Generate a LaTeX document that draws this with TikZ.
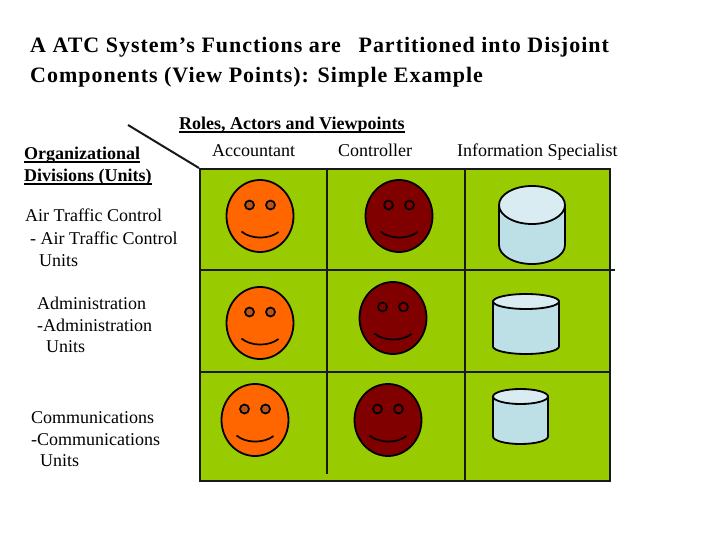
\documentclass[tikz,border=0pt]{standalone}
\usepackage{fontspec}
\setmainfont{Liberation Serif}
\usetikzlibrary{shapes.geometric}
\definecolor{gridgreen}{HTML}{99CC00}
\definecolor{faceorange}{HTML}{FF6600}
\definecolor{facered}{HTML}{800000}
\definecolor{eyeorange}{HTML}{B8551A}
\definecolor{cylside}{HTML}{BDDFE6}
\definecolor{cyltop}{HTML}{D9ECF1}
\newcommand\ulx[1]{\setbox0\hbox{#1}\rlap{\rule[-2.6pt]{\wd0}{1.3pt}}\box0}
\tikzset{
  gridline/.style={line width=2pt,draw=black!90},
  outl/.style={line width=1.8pt,draw=black},
  txt/.style={anchor=base west,inner sep=0pt,font=\fontsize{18}{20}\selectfont},
  ttl/.style={anchor=base west,inner sep=0pt,font=\fontsize{22}{24}\selectfont\bfseries\addfontfeatures{LetterSpace=4.5}},
  hd/.style={anchor=base west,inner sep=0pt,font=\fontsize{18}{20}\selectfont\bfseries},
  pics/smiley/.style n args={2}{code={
    \node[ellipse,outl,fill=#1,minimum width=67pt,minimum height=72pt,inner sep=0pt] (-head) at (0,0) {};
    \node[circle,line width=1.7pt,draw=black,fill=#2,minimum size=9pt,inner sep=0pt] (-le) at (-10.5,-11) {};
    \node[circle,line width=1.7pt,draw=black,fill=#2,minimum size=9pt,inner sep=0pt] (-re) at (10.5,-11) {};
    \draw[line width=1.7pt,draw=black] (-18.5,15.5) .. controls (-9,23.5) and (9,23.5) .. (18.5,16);
  }},
  pics/cyl/.style n args={3}{code={
    \draw[outl,fill=cylside] (-#1,0) -- (-#1,#3) arc[start angle=180,end angle=0,x radius=#1,y radius=#2] -- (#1,0) -- cycle;
    \node[ellipse,outl,fill=cyltop,minimum width=2*#1 pt,minimum height=2*#2 pt,inner sep=0pt] (-top) at (0,0) {};
  }}
}
\begin{document}
\begin{tikzpicture}[x=1pt,y=-1pt]
\useasboundingbox (0,0) rectangle (720,540);
% title
\node[ttl] (t1) at (30,53) {A ATC System’s Functions are\hspace{0.8em}Partitioned into Disjoint};
\node[ttl] (t2) at (30,83) {Components (View Points): Simple Example};
% headers
\node[hd] (roles) at (179,130) {\ulx{Roles, Actors and Viewpoints}};
\node[txt] (acc) at (212,157) {Accountant};
\node[txt] (con) at (338,157) {Controller};
\node[txt] (inf) at (457,157) {Information Specialist};
\node[hd] (org1) at (24,160) {\ulx{Organizational}};
\node[hd] (org2) at (24,182) {\ulx{Divisions (Units)}};
% row labels
\node[txt] (a1) at (25,222) {Air Traffic Control};
\node[txt] (a2) at (30,244) {- Air Traffic Control};
\node[txt] (a3) at (39,266) {Units};
\node[txt] (b1) at (37,309) {Administration};
\node[txt] (b2) at (37,331) {-Administration};
\node[txt] (b3) at (46,352) {Units};
\node[txt] (c1) at (31,423) {Communications};
\node[txt] (c2) at (31,445) {-Communications};
\node[txt] (c3) at (40,466) {Units};
% grid
\node[rectangle,gridline,fill=gridgreen,minimum width=410pt,minimum height=312pt,inner sep=0pt,anchor=north west] (grid) at (199,168) {};
\coordinate (v1t) at (327,168);
\coordinate (v1b) at (327,474);
\coordinate (v2t) at (465,168);
\coordinate (v2b) at (465,480);
\coordinate (h1l) at (199,269.5);
\coordinate (h1r) at (615,269.5);
\coordinate (h2l) at (199,372);
\coordinate (h2r) at (609,372);
\coordinate (diag) at (128,125);
\draw[gridline] (v1t) -- (v1b);
\draw[gridline] (v2t) -- (v2b);
\draw[gridline] (h1l) -- (h1r);
\draw[gridline] (h2l) -- (h2r);
\draw[gridline] (diag) -- (grid.north west);
% faces
\pic (f11) at (260,216) {smiley={faceorange}{eyeorange}};
\pic (f12) at (399,216) {smiley={facered}{facered}};
\pic (f21) at (260,323) {smiley={faceorange}{eyeorange}};
\pic (f22) at (393,318) {smiley={facered}{facered}};
\pic (f31) at (255,420) {smiley={faceorange}{eyeorange}};
\pic (f32) at (388,420) {smiley={facered}{facered}};
% cylinders
\pic (c1) at (532,205) {cyl={33}{19}{40}};
\pic (c2) at (526,301.5) {cyl={33}{7.5}{45}};
\pic (c3) at (520.5,396.5) {cyl={27.5}{7.5}{40}};
\end{tikzpicture}
\end{document}
